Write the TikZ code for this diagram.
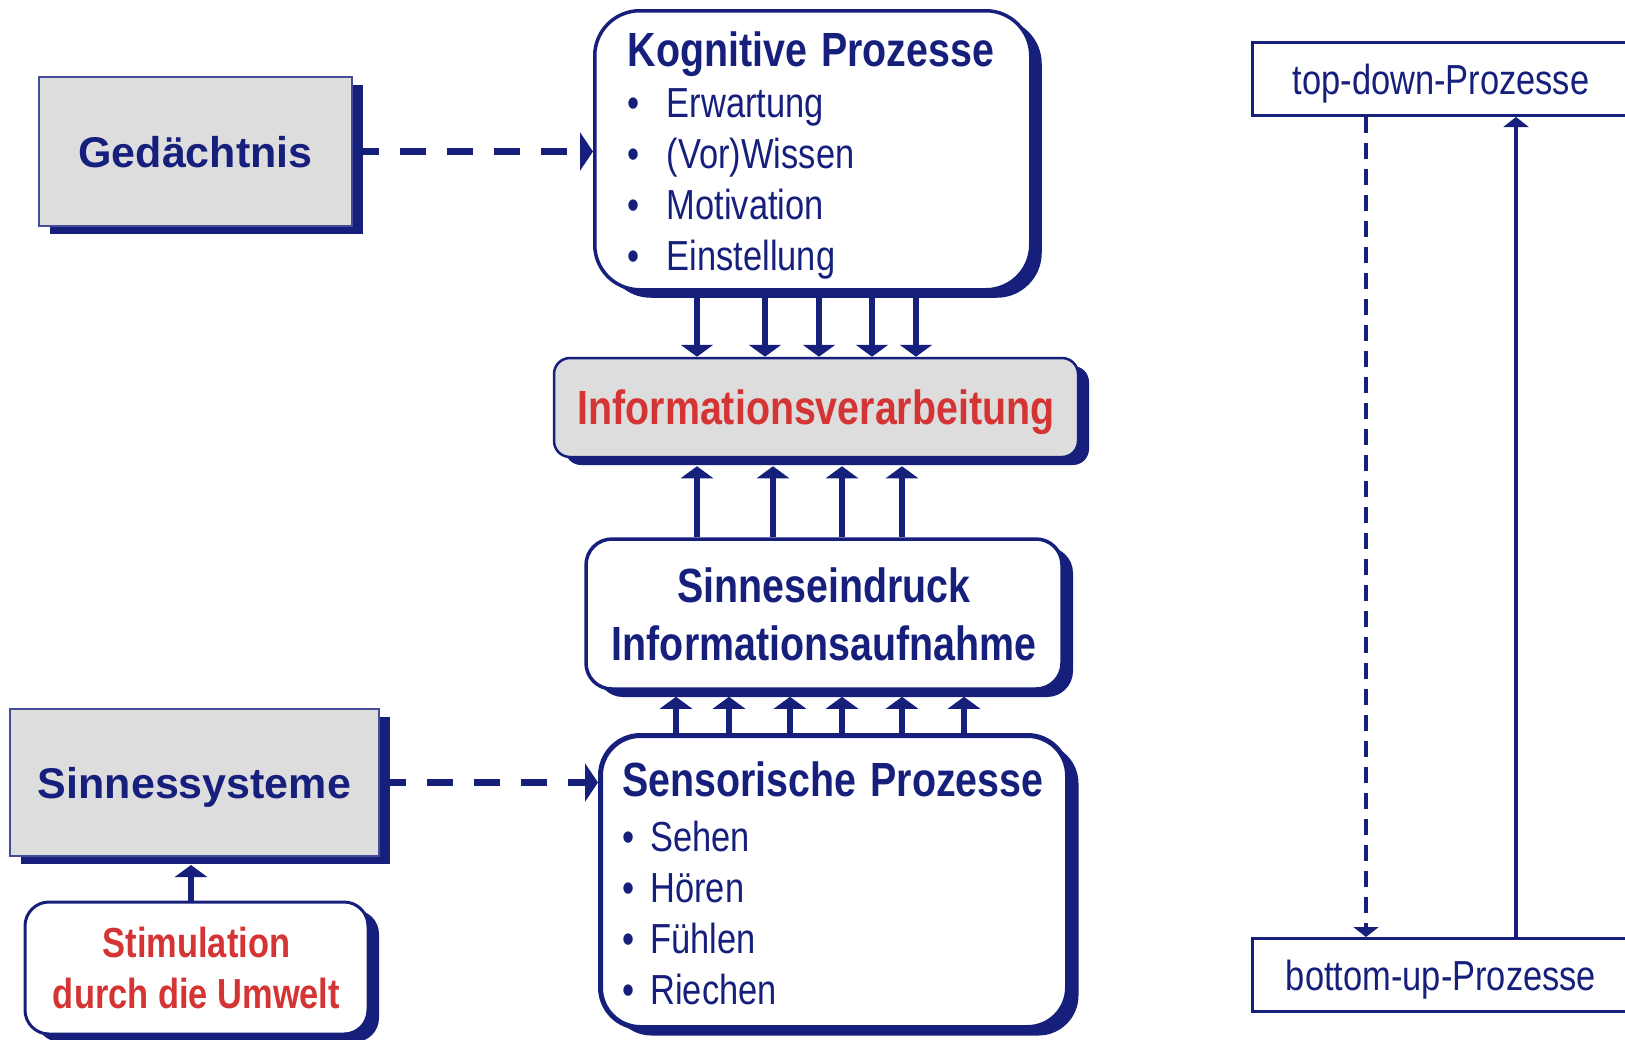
\documentclass[tikz,border=0pt]{standalone}
\usepackage{fontspec}
\setmainfont{Liberation Sans}
\newfontfamily\narrow{Liberation Sans}[FakeStretch=0.82]
\usetikzlibrary{arrows.meta,shadows}

\definecolor{navy}{RGB}{22,32,124}
\definecolor{hotred}{RGB}{212,52,52}
\definecolor{boxgray}{RGB}{221,221,221}

% text sizes
\newcommand\headfont{\fontsize{48}{58}\selectfont\narrow\bfseries}
\newcommand\itemfont{\fontsize{42}{51}\selectfont\narrow}
\newcommand\kbul{\makebox[39pt][l]{\textbullet}}
\newcommand\sbul{\makebox[28pt][l]{\textbullet}}

\begin{document}
\begin{tikzpicture}[x=1pt, y=-1pt,
  boxshadow/.style = {drop shadow={shadow xshift=11pt, shadow yshift=-8pt, fill=navy, opacity=1}},
  graybox/.style = {draw=navy!80, line width=2pt, fill=boxgray, boxshadow, text=navy,
                    text depth=0pt, font=\fontsize{43}{50}\selectfont\bfseries},
  roundbox/.style = {draw=navy, line width=3.5pt, fill=white, boxshadow, text=navy},
  plainbox/.style = {draw=navy, line width=3pt, fill=white, text=navy, text depth=0pt, font=\itemfont},
  arr/.style = {draw=navy, line width=5.5pt, -{Triangle[width=32pt,length=12pt]}},
  dasharr/.style = {draw=navy, line width=6.5pt, dash pattern=on 26pt off 21pt,
                    -{Triangle[width=38pt,length=13pt]}},
  thinarr/.style = {draw=navy, line width=3.5pt, -{Triangle[width=25pt,length=10pt]}}]
\clip (0,0) rectangle (1625,1039);

% left column
\node[graybox, minimum width=313, minimum height=149] (ged) at (195.5,151.5) {Gedächtnis};
\node[graybox, minimum width=369, minimum height=147] (sys) at (194.5,782.5) {Sinnessysteme};
\node[roundbox, line width=3pt, rounded corners=24, minimum width=343, minimum height=132,
      align=center, text=hotred, font=\itemfont\bfseries] (stim) at (196.5,968)
  {Stimulation\\durch die Umwelt};

% middle column
\node[roundbox, rounded corners=45, anchor=north west, minimum width=436, minimum height=279,
      text width=370, inner xsep=33, align=left, font=\itemfont] (kog) at (593,9)
  {{\headfont\rule{0pt}{45pt}\mbox{Kognitive Prozesse}}\\
   \kbul Erwartung\\
   \kbul (Vor)Wissen\\
   \kbul Motivation\\
   \kbul Einstellung};
\node[roundbox, line width=2.5pt, fill=boxgray, rounded corners=16, minimum width=524,
      minimum height=99, text=hotred, text depth=0pt, font=\headfont] (info) at (816,407.5)
  {Informationsverarbeitung};
\node[roundbox, rounded corners=26, minimum width=476, minimum height=150, align=center,
      font=\headfont] (sinn) at (824,614)
  {Sinneseindruck\\Informationsaufnahme};
\node[roundbox, line width=5pt, rounded corners=40, anchor=north west, minimum width=467,
      minimum height=292, text width=423, inner xsep=22, align=left, font=\itemfont] (sens) at (598,733)
  {{\headfont\rule{0pt}{39pt}\mbox{Sensorische Prozesse}}\\[4pt]
   \sbul Sehen\\
   \sbul Hören\\
   \sbul Fühlen\\
   \sbul Riechen};

% right column
\node[plainbox, minimum width=378, minimum height=73] (td) at (1441,79) {top-down-Prozesse};
\node[plainbox, minimum width=378, minimum height=73] (bu) at (1441,975) {bottom-up-Prozesse};

% connectors
\draw[dasharr] (ged.east) -- (ged.east -| kog.west);
\draw[dasharr] (sys.east) -- (sys.east -| sens.west);
\draw[arr, shorten >=8pt] (stim.north -| 191,0) -- (sys.south -| 191,0);
\foreach \x in {697,765,819,872,916}
  \draw[arr] (kog.south -| \x,0) -- (info.north -| \x,0);
\foreach \x in {697,773,842,902}
  \draw[arr, shorten >=8pt] (sinn.north -| \x,0) -- (info.south -| \x,0);
\foreach \x in {676,729,790,842,902,964}
  \draw[arr, shorten >=6pt] (sens.north -| \x,0) -- (sinn.south -| \x,0);
\draw[thinarr, dash pattern=on 16pt off 10pt] (td.south -| 1366,0) -- (bu.north -| 1366,0);
\draw[thinarr] (bu.north -| 1516,0) -- (td.south -| 1516,0);
\end{tikzpicture}
\end{document}
